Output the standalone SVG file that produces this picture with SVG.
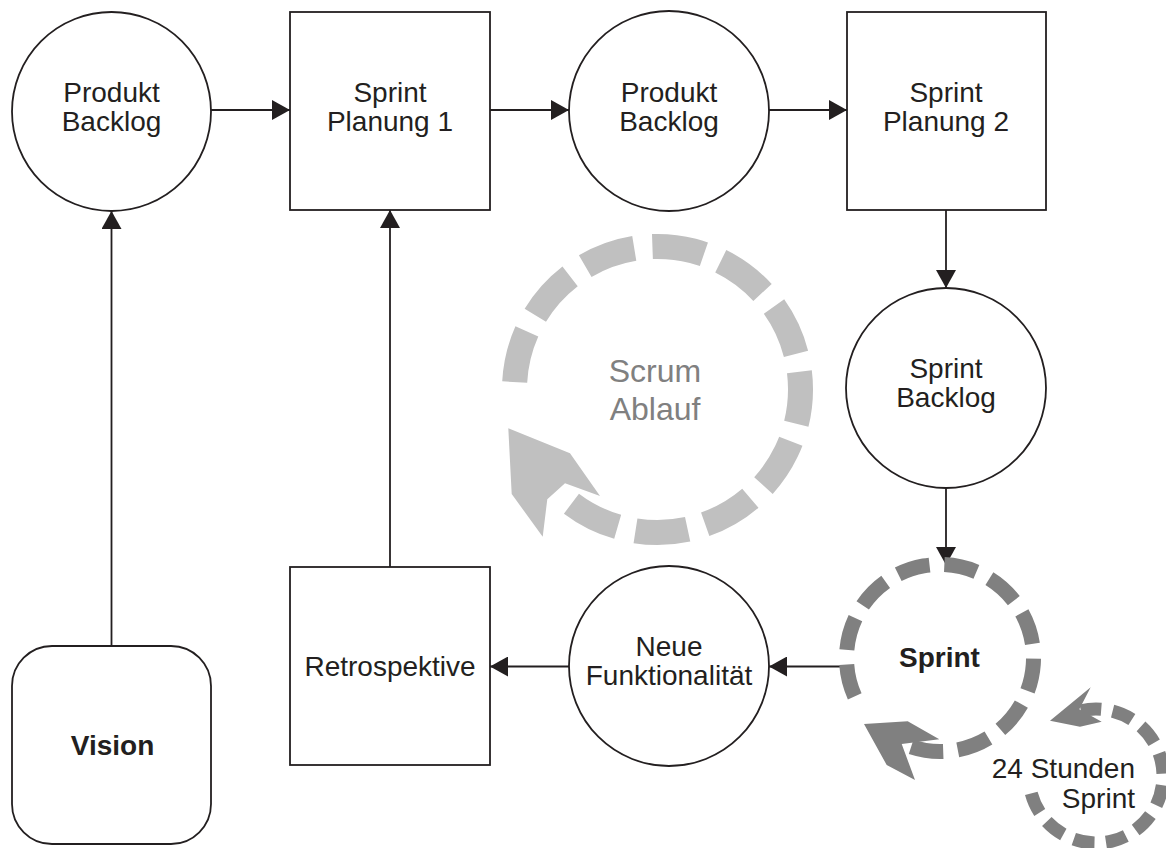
<svg xmlns="http://www.w3.org/2000/svg" width="1166" height="848" viewBox="0 0 1166 848">
  <style>
    .node { fill: #ffffff; stroke: #231f20; stroke-width: 1.8; }
    .lbl { font-family: "Liberation Sans", Arial, sans-serif; font-size: 28px; fill: #231f20; text-anchor: middle; }
    .bold { font-weight: bold; }
    .edge { fill: none; stroke: #231f20; stroke-width: 1.8; }
    .cycle-big { fill: none; stroke: #c0c0c0; stroke-width: 25; stroke-dasharray: 52.4 18.23; }
    .cycle-sprint { fill: none; stroke: #808080; stroke-width: 15; stroke-dasharray: 33 14.65; }
    .cycle-day { fill: none; stroke: #808080; stroke-width: 13; stroke-dasharray: 21 11.49; }
  </style>
  <defs>
    <marker id="arrow" viewBox="0 0 18 20" refX="18" refY="10" markerWidth="18" markerHeight="20" markerUnits="userSpaceOnUse" orient="auto">
      <path d="M0,0 L18,10 L0,20 Z" fill="#231f20"/>
    </marker>
  </defs>
  <rect width="1166" height="848" fill="#ffffff"/>

  <!-- Scrum cycle (background) -->
  <g id="scrum-ablauf">
    <path class="cycle-big" d="M514.7,382.0 A143,143 0 1 1 571.44,503.7"/>
    <polygon fill="#c0c0c0" points="508.3,428.3 570,453.3 600,496 565,483.3 547.3,499.3 542.7,536.7 511.7,494"/>
    <text class="lbl" x="655" y="381.7" style="font-size:32px;fill:#808080">Scrum</text>
    <text class="lbl" x="655" y="420" style="font-size:32px;fill:#808080">Ablauf</text>
  </g>

  <!-- Connectors -->
  <g id="connectors">
    <line class="edge" x1="211" y1="110" x2="290" y2="110" marker-end="url(#arrow)"/>
    <line class="edge" x1="490" y1="110" x2="569" y2="110" marker-end="url(#arrow)"/>
    <line class="edge" x1="769" y1="110" x2="847" y2="110" marker-end="url(#arrow)"/>
    <line class="edge" x1="946" y1="210" x2="946" y2="288" marker-end="url(#arrow)"/>
    <line class="edge" x1="946" y1="488" x2="946" y2="565" marker-end="url(#arrow)"/>
    <line class="edge" x1="848" y1="666.5" x2="769" y2="666.5" marker-end="url(#arrow)"/>
    <line class="edge" x1="569" y1="666.5" x2="490" y2="666.5" marker-end="url(#arrow)"/>
    <line class="edge" x1="390" y1="567" x2="390" y2="210" marker-end="url(#arrow)"/>
    <line class="edge" x1="111.5" y1="646" x2="111.5" y2="211" marker-end="url(#arrow)"/>
  </g>

  <g id="produkt-backlog-1">
    <circle class="node" cx="111.5" cy="111.5" r="99.5"/>
    <text class="lbl" x="111.5" y="101.5">Produkt</text>
    <text class="lbl" x="111.5" y="130.5">Backlog</text>
  </g>

  <g id="sprint-planung-1">
    <rect class="node" x="290" y="12" width="200" height="198"/>
    <text class="lbl" x="390" y="101.5">Sprint</text>
    <text class="lbl" x="390" y="130.5">Planung 1</text>
  </g>

  <g id="produkt-backlog-2">
    <circle class="node" cx="669" cy="111" r="100"/>
    <text class="lbl" x="669" y="101.5">Produkt</text>
    <text class="lbl" x="669" y="130.5">Backlog</text>
  </g>

  <g id="sprint-planung-2">
    <rect class="node" x="847" y="12" width="199" height="198"/>
    <text class="lbl" x="946" y="101.5">Sprint</text>
    <text class="lbl" x="946" y="130.5">Planung 2</text>
  </g>

  <g id="sprint-backlog">
    <circle class="node" cx="946" cy="388" r="100"/>
    <text class="lbl" x="946" y="378">Sprint</text>
    <text class="lbl" x="946" y="407">Backlog</text>
  </g>

  <g id="sprint">
    <path class="cycle-sprint" d="M854.72,696.33 A93.5,93.5 0 1 1 911.11,746.92"/>
    <polygon fill="#808080" points="864,724 907.7,721.2 939.3,739.3 901.7,744 915,780 886.7,765"/>
    <text class="lbl bold" x="939.5" y="667">Sprint</text>
  </g>

  <g id="neue-funktionalitaet">
    <circle class="node" cx="669" cy="666" r="100"/>
    <text class="lbl" x="669" y="656">Neue</text>
    <text class="lbl" x="669" y="685">Funktionalität</text>
  </g>

  <g id="retrospektive">
    <rect class="node" x="290" y="567" width="200" height="198"/>
    <text class="lbl" x="390" y="676">Retrospektive</text>
  </g>

  <g id="vision">
    <rect class="node" x="12" y="646" width="199" height="198" rx="40" ry="40"/>
    <text class="lbl bold" x="112.5" y="755">Vision</text>
  </g>

  <g id="sprint-24h">
    <path class="cycle-day" d="M1031.28,793.34 A67,67 0 1 0 1080.93,710.72"/>
    <polygon fill="#808080" points="1050,720.7 1090.7,687.3 1079.3,709.3 1101.7,721.7 1080,726.7"/>
    <text class="lbl" x="1135" y="778" style="text-anchor:end">24 Stunden</text>
    <text class="lbl" x="1135" y="808" style="text-anchor:end">Sprint</text>
  </g>
</svg>
